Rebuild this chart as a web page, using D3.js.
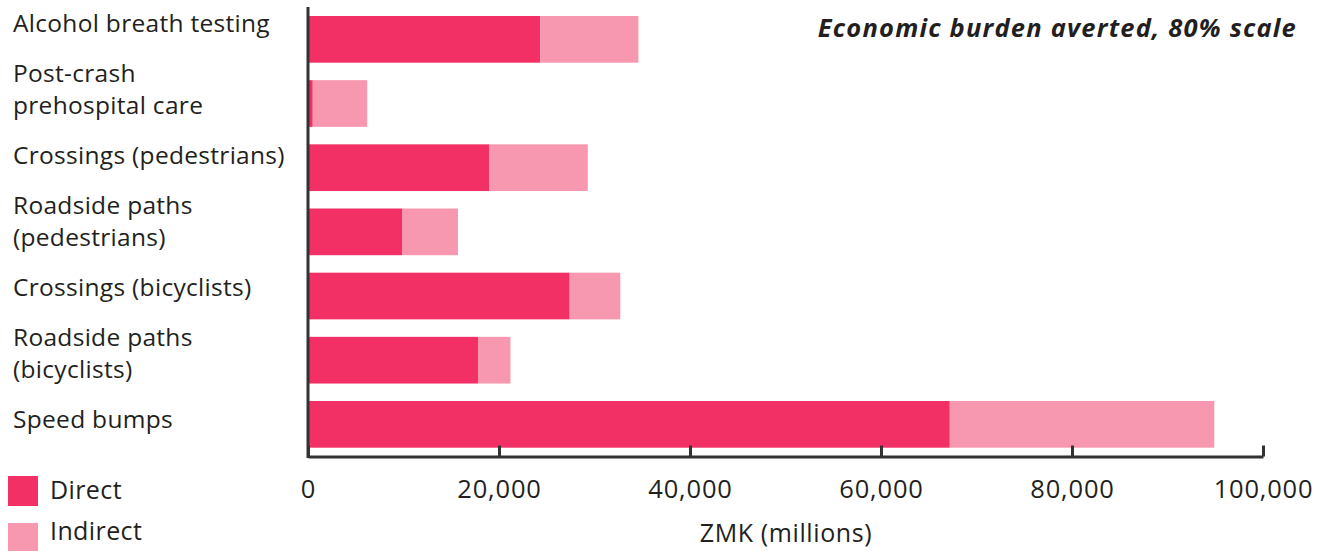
<!DOCTYPE html>
<html>
<head>
<meta charset="utf-8">
<script src="https://cdn.jsdelivr.net/npm/d3@7"></script>
<style>
  body { margin: 0; background: #fff; }
  text { font-family: "Open Sans", sans-serif; fill: #231f20; }
</style>
</head>
<body>
<div id="main"></div>
<script>
// data
var categories = ["Alcohol breath testing", "Post-crash|prehospital care", "Crossings (pedestrians)",
  "Roadside paths|(pedestrians)", "Crossings (bicyclists)", "Roadside paths|(bicyclists)", "Speed bumps"];
var direct   = [24300, 500, 19000, 9900, 27400, 17800, 67200];
var indirect = [10300, 5700, 10300, 5800, 5300, 3400, 27700];
var xTicks = [0, 20000, 40000, 60000, 80000, 100000];
var seriesNames = ["Direct", "Indirect"];
var colors = ["#f23065", "#f797b0"];

var width = 1327, height = 551;
var x0 = 308, x1 = 1263, axisY = 456.5;

var svg = d3.select("#main").append("svg")
    .attr("width", width)
    .attr("height", height);

var x = d3.scaleLinear().domain([0, 100000]).range([x0, x1]);
// bars: 46.7px tall, 64.2px apart, first at y=16
var y = d3.scaleBand().domain(d3.range(categories.length))
    .range([16, 447.7]).paddingInner(1 - 46.7 / 64.17).paddingOuter(0);
// labels sit on their own spacing, a little above the bar centres
var yLabel = d3.scalePoint().domain(d3.range(categories.length)).range([23.3, 419.3]);

for (var i = 0; i < categories.length; i++) {
    svg.append("rect")
        .attr("x", x(0))
        .attr("y", y(i))
        .attr("width", x(direct[i]) - x(0))
        .attr("height", y.bandwidth())
        .attr("fill", colors[0]);
    svg.append("rect")
        .attr("x", x(direct[i]))
        .attr("y", y(i))
        .attr("width", x(direct[i] + indirect[i]) - x(direct[i]))
        .attr("height", y.bandwidth())
        .attr("fill", colors[1]);

    var lines = categories[i].split("|");
    var cy = yLabel(i);
    var t = svg.append("text")
        .attr("x", 13)
        .attr("font-size", "24.5px")
        .attr("letter-spacing", "0.3px");
    lines.forEach(function(l, j) {
        t.append("tspan")
            .attr("x", 13)
            .attr("y", cy + 9 + (j - (lines.length - 1) / 2) * 32)
            .text(l);
    });
}

// axes
var xAxis = d3.axisBottom(x).tickValues(xTicks)
    .tickFormat(d3.format(",")).tickSizeInner(-11).tickSizeOuter(0).tickPadding(23);
var gx = svg.append("g").attr("transform", "translate(0," + axisY + ")").call(xAxis);
gx.select(".domain").attr("stroke", "#333").attr("stroke-width", 3);
gx.selectAll(".tick line").attr("stroke", "#333").attr("stroke-width", 3);
gx.selectAll(".tick text").attr("font-size", "25.5px").attr("fill", "#231f20")
    .attr("letter-spacing", "0.8px")
    .attr("font-family", "'Open Sans', sans-serif");

svg.append("line")
    .attr("x1", x0).attr("x2", x0)
    .attr("y1", 7).attr("y2", axisY + 1.5)
    .attr("stroke", "#333").attr("stroke-width", 3);

svg.append("text")
    .attr("x", 786).attr("y", 542)
    .attr("text-anchor", "middle")
    .attr("font-size", "25px")
    .attr("letter-spacing", "0.6px")
    .text("ZMK (millions)");

svg.append("text")
    .attr("x", 1297).attr("y", 37)
    .attr("text-anchor", "end")
    .attr("font-size", "25.5px")
    .attr("font-weight", "bold")
    .attr("font-style", "italic")
    .attr("letter-spacing", "1.2px")
    .text("Economic burden averted, 80% scale");

// legend
seriesNames.forEach(function(s, k) {
    svg.append("rect")
        .attr("x", 8).attr("y", 476 + k * 47)
        .attr("width", 30).attr("height", 30)
        .attr("fill", colors[k]);
    svg.append("text")
        .attr("x", 50).attr("y", 498.5 + k * 41.5)
        .attr("font-size", "25px")
        .attr("letter-spacing", "0.4px")
        .text(s);
});
</script>
</body>
</html>
